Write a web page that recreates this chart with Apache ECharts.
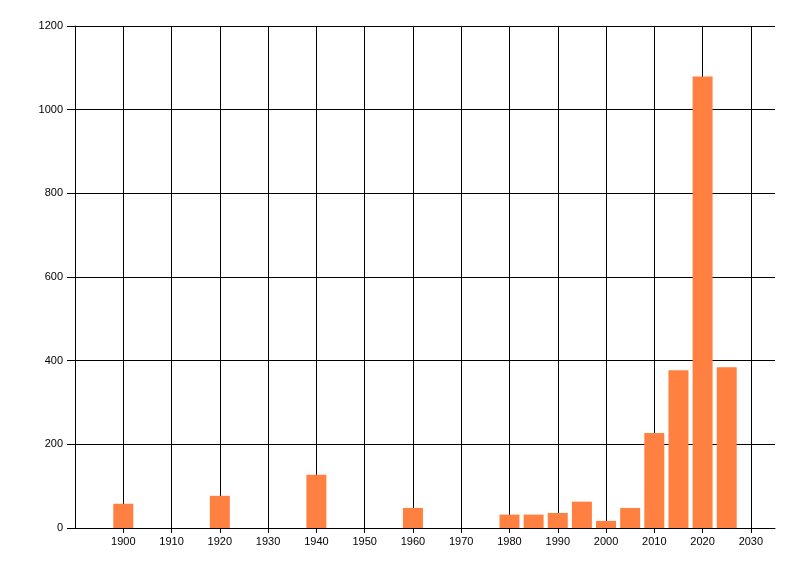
<!DOCTYPE html>
<html>
<head>
<meta charset="utf-8">
<script src="https://cdn.jsdelivr.net/npm/echarts@6/dist/echarts.min.js"></script>
<style>
  html, body { margin: 0; padding: 0; background: #fff; }
  #chart { width: 800px; height: 576px; }
</style>
</head>
<body>
<div id="chart"></div>
<script>
// years (bar centres) and counts
const years = [1900, 1920, 1940, 1960, 1980, 1985, 1990, 1995, 2000, 2005, 2010, 2015, 2020, 2025]
const counts = [58, 77, 127, 48, 32, 32, 36, 63, 17, 48, 227, 377, 1079, 384]
const yTicks = [0, 200, 400, 600, 800, 1000, 1200]

const chartDom = document.getElementById('chart')
const chartInstance = echarts.init(chartDom)

const labelFont = {
    color: '#000',
    fontFamily: 'Liberation Sans, Arial, sans-serif',
    fontSize: 11
}

const option = {
    animation: false,
    grid: {
        left: 75,
        right: 25,
        top: 26,
        bottom: 48
    },
    xAxis: {
        type: 'value',
        min: 1890,
        max: 2035,
        interval: 10,
        axisLine: { show: true, lineStyle: { color: '#000', width: 1 } },
        axisTick: { show: true, length: 5, lineStyle: { color: '#000' } },
        axisLabel: Object.assign({
            margin: 8,
            showMinLabel: false,
            showMaxLabel: false,
            formatter: v => String(v)
        }, labelFont),
        splitLine: {
            show: true,
            showMinLine: false,
            showMaxLine: false,
            lineStyle: { color: '#000', width: 1 }
        }
    },
    yAxis: {
        type: 'value',
        min: yTicks[0],
        max: yTicks[yTicks.length - 1],
        interval: 200,
        axisLine: { show: true, lineStyle: { color: '#000', width: 1 } },
        axisTick: { show: true, length: 8, lineStyle: { color: '#000' } },
        axisLabel: Object.assign({ margin: 12, formatter: v => String(v) }, labelFont),
        splitLine: {
            show: true,
            lineStyle: { color: '#000', width: 1 }
        }
    },
    series: [
        {
            name: 'count',
            type: 'bar',
            barWidth: 20,
            itemStyle: { color: '#ff8040' },
            data: years.map((y, i) => [y, counts[i]])
        }
    ]
}

option && chartInstance.setOption(option)
</script>
</body>
</html>
